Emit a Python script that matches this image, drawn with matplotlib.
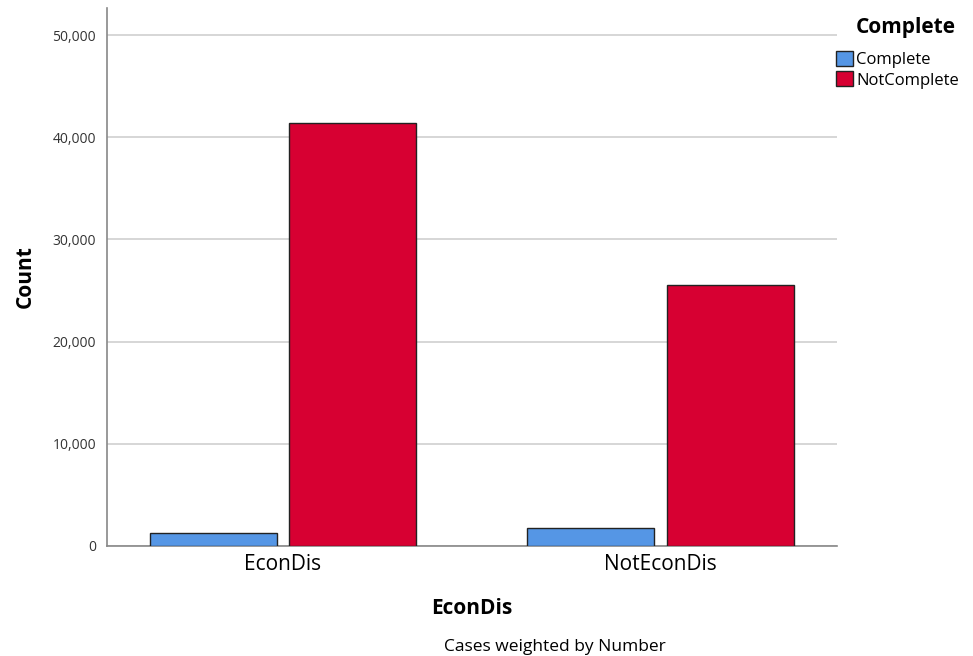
import matplotlib.pyplot as plt
import numpy as np
from matplotlib.ticker import FuncFormatter

# Dados
categorias = ["EconDis", "NotEconDis"]
series = ["Complete", "NotComplete"]
complete = [1270, 1760]
not_complete = [41350, 25550]
cores = ["#5596E5", "#D70032"]

plt.rcParams["font.family"] = ["Open Sans", "DejaVu Sans"]

fig = plt.figure(figsize=(9.73, 6.56), dpi=100)
ax = fig.add_axes([0.110, 0.1677, 0.750, 0.820])

x = np.arange(len(categorias))
larg = 0.336
desloc = 0.185
ax.bar(x - desloc, complete, larg, color=cores[0], edgecolor="#222222",
       linewidth=1, label=series[0], zorder=3)
ax.bar(x + desloc, not_complete, larg, color=cores[1], edgecolor="#222222",
       linewidth=1, label=series[1], zorder=3)

ax.set_xlim(-0.466, 1.466)
ax.set_ylim(0, 52640)
ax.set_yticks([0, 10000, 20000, 30000, 40000, 50000])
ax.yaxis.set_major_formatter(FuncFormatter(lambda v, p: f"{int(v):,}"))
ax.grid(axis="y", color="#cfcfcf", linewidth=1.2, zorder=0)
ax.set_xticks(x)
ax.set_xticklabels(categorias, fontsize=15)
ax.tick_params(axis="y", labelsize=10, length=0, pad=8, colors="#333333")
ax.tick_params(axis="x", length=0, pad=6)

for s in ["top", "right"]:
    ax.spines[s].set_visible(False)
for s in ["left", "bottom"]:
    ax.spines[s].set_color("#888888")
    ax.spines[s].set_linewidth(1.2)

ax.set_ylabel("Count", fontsize=15, fontweight="bold", labelpad=12)
ax.set_xlabel("EconDis", fontsize=15, fontweight="bold", labelpad=16)

# título da legenda separado para controlar o espaçamento
fig.text(906 / 973, 1 - 28 / 656, "Complete", ha="center", va="center",
         fontsize=15, fontweight="bold")
leg = ax.legend(loc="upper left",
                bbox_to_anchor=(836 / 973, 1 - 51 / 656),
                bbox_transform=fig.transFigure, frameon=False,
                fontsize=12, handlelength=1.0, handleheight=1.0,
                handletextpad=0.2, labelspacing=0.2, borderaxespad=0,
                borderpad=0)

fig.text(555 / 973, 1 - 647 / 656, "Cases weighted by Number", ha="center",
         va="center", fontsize=12.5)

fig.savefig("out.png", dpi=100)
